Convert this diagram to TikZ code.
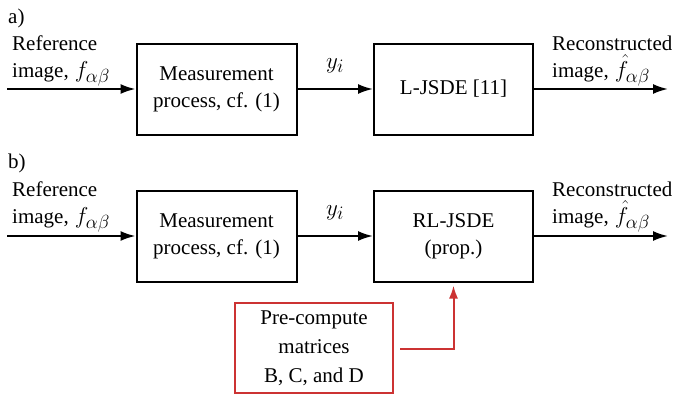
\documentclass[tikz,border=0pt]{standalone}
\usepackage{fix-cm}
\usepackage{fontspec}
\setmainfont{Liberation Serif}[Ligatures=TeX]
\DeclareMathSizes{21}{23}{19}{14}
\usetikzlibrary{arrows.meta}
\definecolor{redc}{RGB}{204,51,51}
\begin{document}
\begin{tikzpicture}[x=1pt,y=-1pt,
  txt/.style={font=\fontsize{21}{27}\selectfont, inner sep=0pt},
  blk/.style={draw, line width=2pt, font=\fontsize{21}{27}\selectfont, align=center, inner sep=0pt},
  arr/.style={line width=2pt, -{Latex[length=15pt,width=10pt]}},
  redbox/.style={draw=redc, line width=1.8pt, font=\fontsize{21}{29}\selectfont, align=center, inner sep=0pt},
  redarr/.style={draw=redc, line width=2pt, -{Latex[length=13pt,width=9pt]}, color=redc}]
\useasboundingbox (0,0) rectangle (675,394);
% panel a
\node[txt, anchor=base west] (la) at (8,23) {a)};
\node[txt, anchor=base west] (ra1) at (12,50) {Reference};
\node[txt, anchor=base west] (ra2) at (12,77) {image,\hspace{6pt}$f_{\alpha\beta}$};
\node[blk, minimum width=160pt, minimum height=91pt] (m1) at (216.5,89) {Measurement\\process, cf. (1)};
\node[blk, minimum width=159pt, minimum height=91pt] (l1) at (453.5,89) {L-JSDE [11]};
\coordinate (ina) at (7,89);
\coordinate (outa) at (668,89);
\draw[arr] (ina) -- (m1.west);
\draw[arr] (m1.east) -- (l1.west);
\draw[arr] (l1.east) -- (outa);
\node[txt, anchor=base] (ya) at (335,68) {$y_i$};
\node[txt, anchor=base west] (oa1) at (552,50) {Reconstructed};
\node[txt, anchor=base west] (oa2) at (552,77) {image,\hspace{6pt}$\hat{f}_{\alpha\beta}$};
% panel b
\node[txt, anchor=base west] (lb) at (8,168) {b)};
\node[txt, anchor=base west] (rb1) at (12,196) {Reference};
\node[txt, anchor=base west] (rb2) at (12,223) {image,\hspace{6pt}$f_{\alpha\beta}$};
\node[blk, minimum width=160pt, minimum height=91pt] (m2) at (216.5,236) {Measurement\\process, cf. (1)};
\node[blk, minimum width=159pt, minimum height=91pt] (l2) at (453.5,236) {RL-JSDE\\(prop.)};
\coordinate (inb) at (7,236);
\coordinate (outb) at (668,236);
\draw[arr] (inb) -- (m2.west);
\draw[arr] (m2.east) -- (l2.west);
\draw[arr] (l2.east) -- (outb);
\node[txt, anchor=base] (yb) at (335,215) {$y_i$};
\node[txt, anchor=base west] (ob1) at (552,196) {Reconstructed};
\node[txt, anchor=base west] (ob2) at (552,223) {image,\hspace{6pt}$\hat{f}_{\alpha\beta}$};
% precompute
\node[redbox, minimum width=158pt, minimum height=90pt] (pc) at (314,348) {Pre-compute\\matrices\\B, C, and D};
\coordinate (pcs) at (400,349);
\draw[redarr, shorten >=3pt] (pcs) -| (l2.south);
\end{tikzpicture}
\end{document}
